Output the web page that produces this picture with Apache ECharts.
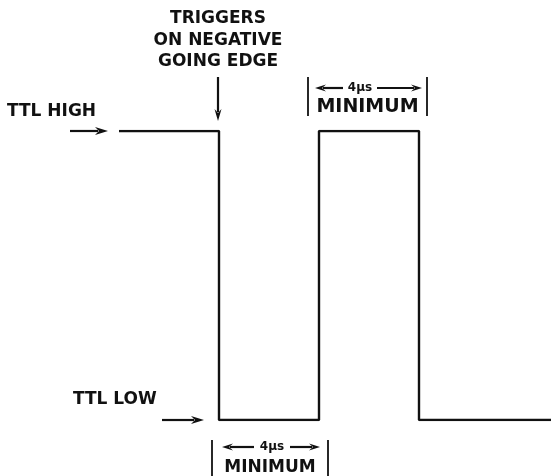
<!DOCTYPE html>
<html><head><meta charset="utf-8">
<script src="https://cdn.jsdelivr.net/npm/echarts@6/dist/echarts.min.js"></script>
<style>html,body{margin:0;padding:0;background:#fff}#c{width:551px;height:476px}</style>
</head><body><div id="c"></div>
<script>
// Waveform data (time in µs, level 1 = TTL HIGH, 0 = TTL LOW)
const timePoints = [0, 4, 4, 8, 8, 12, 12, 17.3];
const levels     = [1, 1, 0, 0, 1, 1, 0, 0];
const highLabel = 'TTL HIGH';
const lowLabel  = 'TTL LOW';
const triggerText = ['TRIGGERS', 'ON NEGATIVE', 'GOING EDGE'];
const widthLabel = '4\u00b5s';
const minLabel = 'MINIMUM';
const triggerTime = 4;
const lowPulse  = [4, 8];
const highPulse = [8, 12];

const chart = echarts.init(document.getElementById('c'), null, {renderer: 'canvas'});
const FONT = '"DejaVu Sans", sans-serif';
const INK = '#111';

chart.setOption({
  animation: false,
  backgroundColor: '#fff',
  grid: {left: 0, right: 0, top: 131, bottom: 56},
  xAxis: {type: 'value', min: -4.76, max: 17.28, show: false},
  yAxis: {type: 'value', min: 0, max: 1, show: false},
  series: [{
    type: 'line',
    data: timePoints.map((t, i) => [t, levels[i]]),
    symbol: 'none',
    lineStyle: {color: INK, width: 2.4},
    z: 3
  }]
});

const P = (t, v) => chart.convertToPixel({gridIndex: 0}, [t, v]);
const hy = P(0, 1)[1], ly = P(0, 0)[1];
const xs = t => P(t, 0)[0];

function arrow(x1, y1, x2, y2, hl, hw) {
  hl = hl || 13; hw = hw || 4;
  const dx = x2 - x1, dy = y2 - y1, L = Math.hypot(dx, dy);
  const ux = dx / L, uy = dy / L;
  const bx = x2 - ux * hl, by = y2 - uy * hl;
  return [
    {type: 'line', shape: {x1, y1, x2: bx + ux * 3, y2: by + uy * 3}, style: {stroke: INK, lineWidth: 2.2}},
    {type: 'polygon', shape: {points: [[x2, y2], [bx - uy * hw, by + ux * hw], [bx + ux * 4, by + uy * 4], [bx + uy * hw, by - ux * hw]]}, style: {fill: INK}}
  ];
}
function txt(x, y, s, size, align) {
  return {type: 'text', x, y, style: {text: s, fill: INK, font: 'bold ' + size + 'px ' + FONT, textAlign: align || 'center', textVerticalAlign: 'middle'}};
}
function vbar(x, y1, y2) {
  return {type: 'line', shape: {x1: x, y1, x2: x, y2}, style: {stroke: INK, lineWidth: 1.8}};
}

const els = [];
// TTL HIGH
els.push(txt(7, hy - 19, highLabel, 17, 'left'));
els.push(...arrow(xs(0) - 49, hy, xs(0) - 11, hy));
// TTL LOW
els.push(txt(73, ly - 20, lowLabel, 17, 'left'));
els.push(...arrow(xs(triggerTime) - 57, ly, xs(triggerTime) - 15, ly));
// trigger annotation
const tx = xs(triggerTime) - 1;
triggerText.forEach((s, i) => els.push(txt(tx, 19 + i * 21.5, s, 17)));
els.push(...arrow(tx, hy - 54, tx, hy - 10, 12, 3.5));
// top dimension (high pulse)
const ta = xs(highPulse[0]) - 11, tb = xs(highPulse[1]) + 8;
els.push(vbar(ta, hy - 54, hy - 15), vbar(tb, hy - 54, hy - 15));
els.push(txt(360, hy - 43, widthLabel, 12));
els.push(...arrow(343, hy - 43, ta + 7, hy - 43, 11, 3.5));
els.push(...arrow(377, hy - 43, tb - 5, hy - 43, 11, 3.5));
els.push(txt((ta + tb) / 2, hy - 24, minLabel, 19));
// bottom dimension (low pulse)
const ba = xs(lowPulse[0]) - 7, bb = xs(lowPulse[1]) + 9;
els.push(vbar(ba, ly + 20, 476), vbar(bb, ly + 20, 476));
els.push(txt(272, ly + 27, widthLabel, 12));
els.push(...arrow(254, ly + 27, ba + 10, ly + 27, 11, 3.5));
els.push(...arrow(290, ly + 27, bb - 8, ly + 27, 11, 3.5));
els.push(txt((ba + bb) / 2, ly + 48, minLabel, 17));

chart.setOption({graphic: {elements: els}});
</script>
</body></html>
